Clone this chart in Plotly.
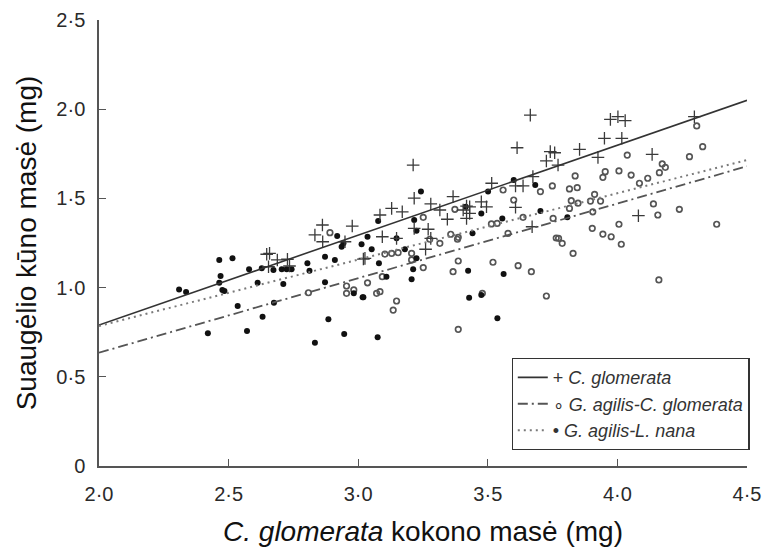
import plotly.graph_objects as go

# ---- data ----
# C. glomerata (+)
cg_x = [2.647, 2.654, 2.862, 2.977, 2.833, 2.863, 2.949, 2.658, 2.688, 2.727, 2.735, 3.020,
        3.212, 3.216, 3.280, 3.129, 3.170, 3.366, 3.315, 3.344, 3.093, 3.216, 3.270, 3.280,
        3.260, 3.026, 3.084, 3.418, 3.418, 3.148,
        3.664, 3.613, 3.741, 3.726, 3.515, 3.607, 3.636, 3.674, 3.607, 3.671, 3.430, 3.430,
        3.475, 3.405, 3.495,
        3.973, 4.002, 4.030, 3.950, 4.017, 3.854, 3.758, 3.925, 4.081, 3.771, 4.297, 4.134]
cg_y = [1.187, 1.117, 1.351, 1.345, 1.295, 1.257, 1.257, 1.192, 1.155, 1.159, 1.121, 1.160,
        1.687, 1.501, 1.469, 1.444, 1.425, 1.510, 1.435, 1.383, 1.285, 1.332, 1.327, 1.276,
        1.215, 1.164, 1.407, 1.457, 1.388, 1.276,
        1.967, 1.784, 1.762, 1.710, 1.585, 1.570, 1.570, 1.622, 1.450, 1.341, 1.453, 1.416,
        1.481, 1.435, 1.453,
        1.943, 1.958, 1.936, 1.837, 1.837, 1.775, 1.756, 1.730, 1.403, 1.687, 1.958, 1.747]

# G. agilis - C. glomerata (open circles)
gc_x = [2.891, 2.808, 2.955, 2.955, 2.983,
        3.251, 3.373, 3.357, 3.383, 3.315, 3.276, 3.103, 3.129, 3.154, 3.206, 3.206, 3.251,
        3.366, 3.093, 3.036, 3.071, 3.084, 3.148, 3.135, 3.386,
        3.749, 3.703, 3.559, 3.600, 3.636, 3.514, 3.536, 3.578, 3.752, 3.386, 3.386, 3.520,
        3.617, 3.668, 3.726, 3.698, 3.479, 3.764,
        4.038, 3.953, 3.944, 4.006, 4.053, 4.117, 4.085, 3.837, 3.815, 3.845, 3.912, 3.822,
        3.896, 3.935, 3.848, 3.815, 3.905, 3.903, 4.006, 3.944, 3.976, 4.015, 3.773, 3.787,
        3.829,
        4.306, 4.329, 4.278, 4.173, 4.185, 4.162, 4.139, 4.156, 4.239, 4.383, 4.160]
gc_y = [1.308, 0.971, 1.009, 0.968, 0.987,
        1.394, 1.439, 1.299, 1.271, 1.248, 1.271, 1.188, 1.192, 1.196, 1.192, 1.155, 1.112,
        1.089, 1.061, 1.027, 0.968, 0.977, 0.925, 0.874, 0.766,
        1.570, 1.538, 1.547, 1.491, 1.394, 1.357, 1.360, 1.304, 1.388, 1.282, 1.149, 1.142,
        1.123, 1.089, 0.953, 0.570, 0.968, 1.278,
        1.743, 1.650, 1.618, 1.654, 1.631, 1.613, 1.585, 1.626, 1.553, 1.560, 1.523, 1.487,
        1.485, 1.485, 1.473, 1.444, 1.425, 1.332, 1.355, 1.300, 1.285, 1.243, 1.276, 1.248,
        1.192,
        1.906, 1.790, 1.734, 1.693, 1.674, 1.644, 1.469, 1.407, 1.439, 1.355, 1.043]

# G. agilis - L. nana (filled dots)
gl_x = [2.309, 2.336, 2.420, 2.464, 2.515, 2.469, 2.464, 2.476, 2.484, 2.579, 2.628, 2.612,
        2.535, 2.631, 2.571,
        2.919, 2.936, 2.943, 3.013, 2.872, 2.910, 2.804, 2.812, 2.743, 2.724, 2.705, 2.673,
        2.711, 2.872, 2.983, 3.017, 2.885, 2.946, 2.833, 2.675,
        3.242, 3.077, 3.216, 3.036, 3.225, 3.148, 3.052, 3.180, 3.080, 3.225, 3.212, 3.206,
        3.109, 3.020, 3.075,
        3.600, 3.501, 3.683, 3.703, 3.556, 3.441, 3.475, 3.424, 3.561, 3.428, 3.475, 3.537,
        3.415, 3.807]
gl_y = [0.990, 0.975, 0.744, 1.155, 1.164, 1.065, 1.027, 0.987, 0.981, 1.103, 1.108, 1.027,
        0.897, 0.837, 0.757,
        1.289, 1.229, 1.248, 1.243, 1.173, 1.155, 1.136, 1.095, 1.103, 1.103, 1.103, 1.099,
        1.020, 1.030, 0.968, 0.946, 0.822, 0.740, 0.691, 0.915,
        1.538, 1.373, 1.379, 1.285, 1.319, 1.276, 1.215, 1.215, 1.136, 1.164, 1.103, 1.047,
        1.061, 0.946, 0.721,
        1.603, 1.538, 1.575, 1.429, 1.388, 1.304, 1.416, 1.095, 1.076, 0.943, 0.959, 0.828,
        1.453, 1.394]

# fitted lines (end points)
fit_x = [2.0, 4.5]
fit_cg_y = [0.79, 2.05]
fit_gc_y = [0.635, 1.68]
fit_gl_y = [0.785, 1.715]

x_ticks = [2.0, 2.5, 3.0, 3.5, 4.0, 4.5]
x_ticktext = ["2·0", "2·5", "3·0", "3·5", "4·0", "4·5"]
y_ticks = [0, 0.5, 1.0, 1.5, 2.0, 2.5]
y_ticktext = ["0", "0·5", "1·0", "1·5", "2·0", "2·5"]

FONT = "Liberation Sans, Arial, sans-serif"

fig = go.Figure()

fig.add_trace(go.Scatter(x=gc_x, y=gc_y, mode="markers", showlegend=False,
                         marker=dict(symbol="circle-open", size=5.5, color="#555555",
                                     line=dict(width=1.7, color="#555555"))))
fig.add_trace(go.Scatter(x=gl_x, y=gl_y, mode="markers", showlegend=False,
                         marker=dict(symbol="circle", size=6, color="#111111")))
fig.add_trace(go.Scatter(x=cg_x, y=cg_y, mode="markers", showlegend=False,
                         marker=dict(symbol="cross-thin", size=9, color="#3a3a3a",
                                     line=dict(width=1.3, color="#3a3a3a"))))

fig.add_trace(go.Scatter(x=fit_x, y=fit_cg_y, mode="lines",
                         name="+ <i>C. glomerata</i>",
                         line=dict(color="#333333", width=1.6)))
fig.add_trace(go.Scatter(x=fit_x, y=fit_gc_y, mode="lines",
                         name="∘ <i>G. agilis-C. glomerata</i>",
                         line=dict(color="#555555", width=1.8, dash="10px,4px,2px,4px")))
fig.add_trace(go.Scatter(x=fit_x, y=fit_gl_y, mode="lines",
                         name="• <i>G. agilis-L. nana</i>",
                         line=dict(color="#7a7a7a", width=2, dash="2px,4px")))

fig.update_layout(
    width=780, height=560,
    margin=dict(l=91, r=41, t=12, b=102, autoexpand=False),
    paper_bgcolor="white", plot_bgcolor="white",
    font=dict(family=FONT, color="#222222"),
    legend=dict(x=1.004, y=0.036, xanchor="right", yanchor="bottom",
                bordercolor="#333333", borderwidth=1.2, bgcolor="white",
                font=dict(size=18, color="#333333"), tracegroupgap=0,
                itemwidth=30),
    xaxis=dict(range=[2.0, 4.5], tickvals=x_ticks, ticktext=x_ticktext,
               showgrid=False, zeroline=False, showline=True, linecolor="#555555",
               linewidth=1.5, ticks="inside", ticklen=7, tickcolor="#555555",
               tickwidth=1.2, tickfont=dict(size=20, color="#2a2a2a"),
               ticklabelstandoff=9, automargin=False,
               title=dict(text="<i>C. glomerata</i> kokono masė (mg)",
                          font=dict(size=28, color="#111111"), standoff=18)),
    yaxis=dict(range=[0, 2.5], tickvals=y_ticks, ticktext=y_ticktext,
               showgrid=False, zeroline=False, showline=True, linecolor="#555555",
               linewidth=1.5, ticks="inside", ticklen=7, tickcolor="#555555",
               tickwidth=1.2, tickfont=dict(size=20, color="#2a2a2a"),
               ticklabelstandoff=8, automargin=False,
               title=dict(text="Suaugėlio kūno masė (mg)",
                          font=dict(size=28, color="#111111"), standoff=12)),
)

fig.write_html("out.html")
